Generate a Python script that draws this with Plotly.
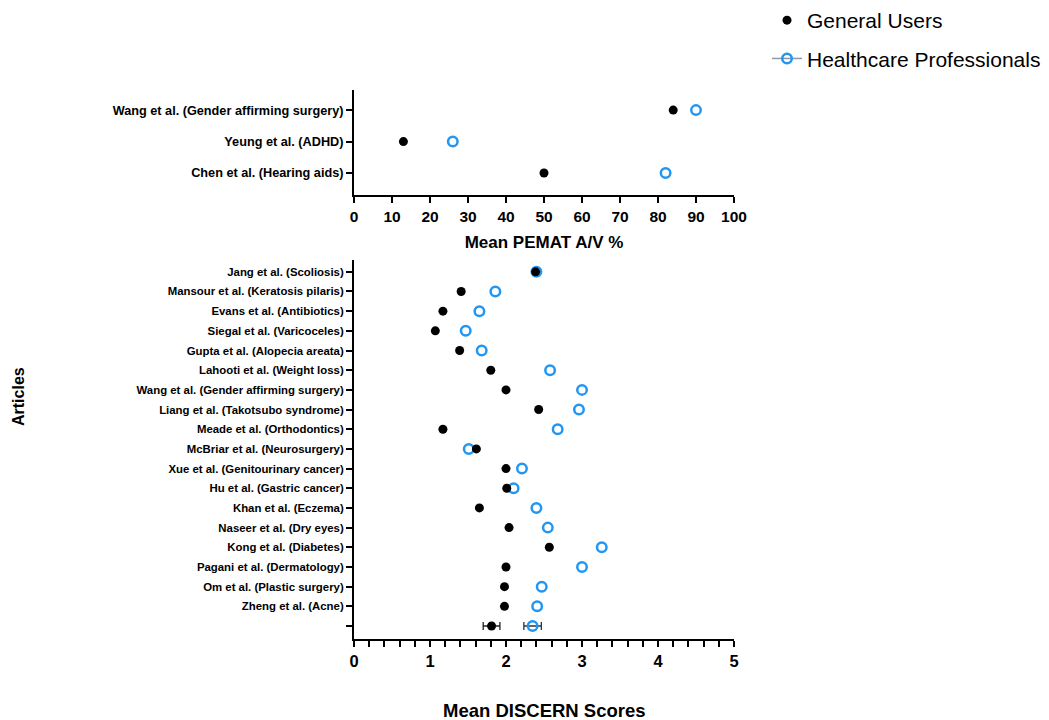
import plotly.graph_objects as go

# ---- Data ----
pemat_articles = ["Chen et al. (Hearing aids)", "Yeung et al. (ADHD)",
                  "Wang et al. (Gender affirming surgery)"]
pemat_general = [50, 13, 84]
pemat_hcp = [82, 26, 90]

discern_articles = [
    "Jang et al. (Scoliosis)", "Mansour et al. (Keratosis pilaris)",
    "Evans et al. (Antibiotics)", "Siegal et al. (Varicoceles)",
    "Gupta et al. (Alopecia areata)", "Lahooti et al. (Weight loss)",
    "Wang et al. (Gender affirming surgery)", "Liang et al. (Takotsubo syndrome)",
    "Meade et al. (Orthodontics)", "McBriar et al. (Neurosurgery)",
    "Xue et al. (Genitourinary cancer)", "Hu et al. (Gastric cancer)",
    "Khan et al. (Eczema)", "Naseer et al. (Dry eyes)",
    "Kong et al. (Diabetes)", "Pagani et al. (Dermatology)",
    "Om et al. (Plastic surgery)", "Zheng et al. (Acne)",
]
discern_general = [2.39, 1.41, 1.17, 1.07, 1.39, 1.80, 2.00, 2.43, 1.17, 1.61,
                   2.00, 2.01, 1.65, 2.04, 2.57, 2.00, 1.98, 1.98]
discern_hcp = [2.40, 1.86, 1.65, 1.47, 1.68, 2.58, 3.00, 2.96, 2.68, 1.51,
               2.21, 2.10, 2.40, 2.55, 3.26, 3.00, 2.47, 2.41]
mean_label = ""
mean_general, mean_general_err = 1.81, 0.11
mean_hcp, mean_hcp_err = 2.35, 0.115

pemat_ticks = list(range(0, 101, 10))
discern_ticks = [0, 1, 2, 3, 4, 5]

# ---- Styling ----
BLUE = "#2196F3"
FONT = "Liberation Sans, Arial, Helvetica, sans-serif"
W, H = 1049, 720

n = len(discern_articles)
row_labels = [mean_label] + discern_articles[::-1]
row_pos = list(range(n + 1))
art_pos = [n - i for i in range(n)]  # first article at top
top_pos = list(range(len(pemat_articles)))

hcp_marker = dict(symbol="circle-open", size=9.5, color=BLUE, line=dict(width=2.5, color=BLUE))
gu_marker = dict(symbol="circle", size=9, color="black")

fig = go.Figure()

# top panel
fig.add_trace(go.Scatter(x=pemat_hcp, y=top_pos, mode="markers", xaxis="x", yaxis="y",
                         marker=hcp_marker, showlegend=False))
fig.add_trace(go.Scatter(x=pemat_general, y=top_pos, mode="markers", xaxis="x", yaxis="y",
                         marker=gu_marker, showlegend=False))

# bottom panel
fig.add_trace(go.Scatter(x=discern_hcp, y=art_pos, mode="markers", xaxis="x2", yaxis="y2",
                         marker=hcp_marker, showlegend=False))
fig.add_trace(go.Scatter(x=discern_general, y=art_pos, mode="markers", xaxis="x2", yaxis="y2",
                         marker=gu_marker, showlegend=False))
# mean row with error bars
fig.add_trace(go.Scatter(x=[mean_hcp], y=[0], mode="markers", xaxis="x2", yaxis="y2",
                         marker=hcp_marker,
                         error_x=dict(type="data", array=[mean_hcp_err], color="#333333",
                                      thickness=1.3, width=4),
                         showlegend=False))
fig.add_trace(go.Scatter(x=[mean_general], y=[0], mode="markers", xaxis="x2", yaxis="y2",
                         marker=gu_marker,
                         error_x=dict(type="data", array=[mean_general_err], color="#222222",
                                      thickness=1.3, width=4),
                         showlegend=False))

# legend entries
fig.add_trace(go.Scatter(x=[None], y=[None], mode="markers", name="General Users",
                         marker=gu_marker, legendgroup="a", xaxis="x", yaxis="y"))
fig.add_trace(go.Scatter(x=[None], y=[None], mode="lines+markers", name="Healthcare Professionals",
                         line=dict(color="#8a9aa8", width=1.5),
                         marker=hcp_marker, legendgroup="b", xaxis="x", yaxis="y"))


def ydom(top_px, bot_px):
    return [1 - bot_px / H, 1 - top_px / H]


axis_common = dict(showline=True, linecolor="black", linewidth=2, ticks="outside",
                   ticklen=6, tickwidth=2, tickcolor="black", showgrid=False,
                   zeroline=False, mirror=False, automargin=False)
xdom = [354 / W, 734 / W]

fig.update_layout(
    width=W, height=H,
    margin=dict(l=0, r=0, t=0, b=0),
    plot_bgcolor="white", paper_bgcolor="white",
    font=dict(family=FONT, color="black"),
    xaxis=dict(**axis_common, domain=xdom, anchor="y", range=[0, 100],
               tickvals=pemat_ticks, ticktext=[str(t) for t in pemat_ticks],
               tickfont=dict(size=15.5, weight="bold"),
               title=dict(text="Mean PEMAT A/V %", font=dict(size=17, weight="bold"), standoff=13)),
    yaxis=dict(**axis_common, domain=ydom(90, 195), anchor="x", range=[-0.7, 2.64],
               tickvals=top_pos, ticktext=pemat_articles,
               tickfont=dict(size=12.7, weight="bold")),
    xaxis2=dict(**axis_common, domain=xdom, anchor="y2", range=[0, 5],
                tickvals=discern_ticks, ticktext=[str(t) for t in discern_ticks],
                tickfont=dict(size=16.5, weight="bold"),
                minor=dict(dtick=0.2, ticks="outside", ticklen=6, tickwidth=2, tickcolor="black")),
    yaxis2=dict(**axis_common, domain=ydom(260, 639), anchor="x2", range=[-0.66, n + 0.6],
                tickvals=row_pos, ticktext=row_labels,
                tickfont=dict(size=11.4, weight="bold")),
    legend=dict(x=767 / W, y=1 - 0 / H, xanchor="left", yanchor="top",
                font=dict(size=21, family=FONT), tracegroupgap=8, bgcolor="rgba(0,0,0,0)"),
    annotations=[
        dict(text="Mean DISCERN Scores", x=544 / W, y=1 - 710 / H, xref="paper", yref="paper",
             showarrow=False, font=dict(size=18.5, weight="bold"), xanchor="center", yanchor="middle"),
        dict(text="Articles", x=18 / W, y=1 - 397 / H, xref="paper", yref="paper",
             showarrow=False, textangle=-90, font=dict(size=16, weight="bold"),
             xanchor="center", yanchor="middle"),
    ],
)

fig.write_html("out.html", config={"displayModeBar": False},
               post_script="document.body.style.margin='0';")
